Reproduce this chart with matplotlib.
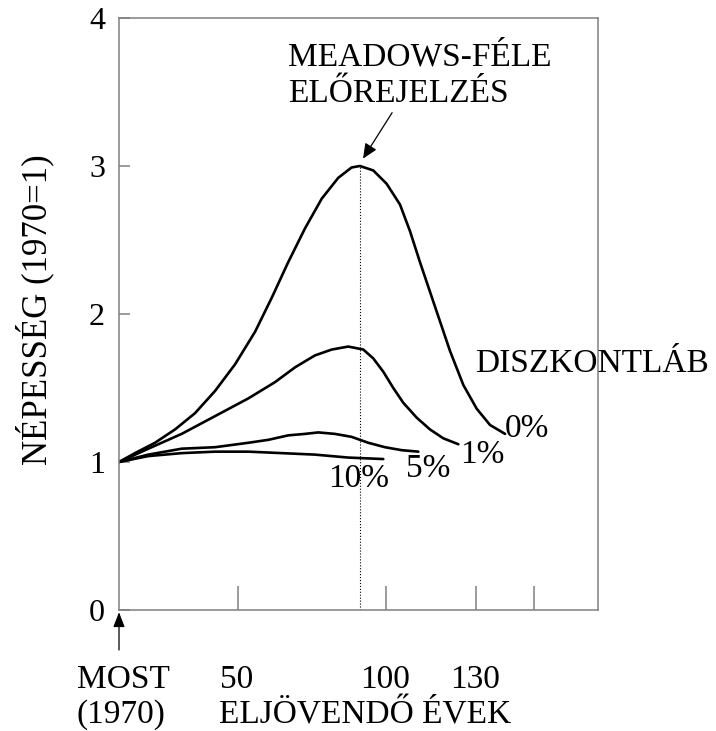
import matplotlib.pyplot as plt

plt.rcParams['font.family'] = ['Liberation Serif', 'DejaVu Serif']

# -----------------------------------------------------
# Data (x in schematic year units, y = population, 1970=1)
# -----------------------------------------------------
x_0 = [0, 6.7, 15.1, 23.5, 31.9, 40.3, 48.7, 57.1, 64.1, 71.0, 78.1, 85.1,
       92.0, 97.6, 101.1, 106.7, 112.3, 117.9, 122.1, 126.3, 130.5, 134.7,
       138.9, 144.5, 150.1, 155.7, 162.0]
y_0 = [1.0, 1.06, 1.13, 1.22, 1.33, 1.48, 1.66, 1.88, 2.11, 2.35, 2.58, 2.78,
       2.92, 2.99, 3.0, 2.97, 2.88, 2.74, 2.56, 2.35, 2.15, 1.95,
       1.75, 1.52, 1.36, 1.25, 1.19]

x_1 = [0, 12.3, 26.3, 40.3, 54.3, 65.5, 73.9, 82.2, 89.3, 96.2, 102.5, 106.7,
       110.9, 115.1, 119.3, 124.9, 130.5, 136.1, 142.4]
y_1 = [1.0, 1.09, 1.19, 1.31, 1.43, 1.54, 1.64, 1.72, 1.76, 1.78, 1.76, 1.70,
       1.61, 1.50, 1.40, 1.30, 1.22, 1.16, 1.12]

x_5 = [0, 12.3, 26.3, 40.3, 54.3, 62.7, 71.0, 78.1, 83.6, 90.6, 97.6, 104.6,
       111.6, 118.6, 125.6]
y_5 = [1.0, 1.05, 1.09, 1.10, 1.13, 1.15, 1.18, 1.19, 1.20, 1.19, 1.17, 1.13,
       1.10, 1.08, 1.07]

x_10 = [0, 12.3, 26.3, 40.3, 54.3, 68.3, 82.2, 96.2, 110.9]
y_10 = [1.0, 1.04, 1.06, 1.07, 1.07, 1.06, 1.05, 1.03, 1.02]

rate_labels = ["0%", "1%", "5%", "10%"]
label_pos = [(162.0, 1.17), (143.1, 0.99), (120.4, 0.90), (87.7, 0.83)]

peak_x, peak_y = 101.1, 3.0

x_ticks = [50, 112, 150, 174]
x_tick_labels = ["50", "100", "130", ""]
y_ticks = [0, 1, 2, 3, 4]

FS = 24
GRAY = "#808080"

fig = plt.figure(figsize=(7.16, 7.31), dpi=100)
ax = fig.add_axes([0.1662, 0.1655, 0.669, 0.8099])
ax.set_xlim(0, 201)
ax.set_ylim(0, 4)

for xs, ys in [(x_0, y_0), (x_1, y_1), (x_5, y_5), (x_10, y_10)]:
    ax.plot(xs, ys, color="black", lw=1.9, solid_capstyle="round",
            solid_joinstyle="round")

for lab, (lx, ly) in zip(rate_labels, label_pos):
    ax.text(lx, ly, lab, fontsize=FS, ha="left", va="baseline")

ax.vlines(peak_x, 0, peak_y, colors="black", linestyles=":", lw=0.8)

# spines and ticks
for s in ax.spines.values():
    s.set_color(GRAY)
    s.set_linewidth(1.1)
ax.set_yticks(y_ticks)
ax.set_yticklabels([str(v) for v in y_ticks], fontsize=FS - 1)
ax.tick_params(axis="y", direction="in", length=8, width=1.1, color=GRAY, pad=10)
ax.set_xticks(x_ticks)
ax.set_xticklabels([])
ax.tick_params(axis="x", direction="in", length=17, width=1.1, color=GRAY)

# annotation
ax.text(70.9, 3.68, "MEADOWS-FÉLE", fontsize=FS, ha="left", va="baseline")
ax.text(70.9, 3.43, "ELŐREJELZÉS", fontsize=FS, ha="left", va="baseline")
ax.annotate("", xy=(102.4, 3.05), xytext=(114.6, 3.36),
            arrowprops=dict(arrowstyle="-|>,head_length=0.9,head_width=0.4",
                            color="black", lw=0.9, shrinkA=0, shrinkB=0))
ax.text(149.4, 1.61, "DISZKONTLÁB", fontsize=FS, ha="left", va="baseline",
        clip_on=False)

# x axis texts
ax.annotate("", xy=(0, -0.015), xytext=(0, -0.27), annotation_clip=False,
            arrowprops=dict(arrowstyle="-|>,head_length=0.9,head_width=0.35",
                            color="black", lw=0.9, shrinkA=0, shrinkB=0))
ax.text(2, -0.53, "MOST", fontsize=FS, ha="center", va="baseline", clip_on=False)
ax.text(1, -0.765, "(1970)", fontsize=FS, ha="center", va="baseline", clip_on=False)
for tx, tl in zip(x_ticks, x_tick_labels):
    if tl:
        ax.text(tx - 0.5, -0.53, tl, fontsize=FS, ha="center", va="baseline",
                clip_on=False)
ax.text(103.2, -0.765, "ELJÖVENDŐ ÉVEK", fontsize=FS, ha="center", va="baseline",
        clip_on=False)

fig.text(0.049, 0.576, "NÉPESSÉG (1970=1)", fontsize=FS + 1, rotation=90,
         ha="center", va="center")

fig.savefig("out.png", dpi=100)
